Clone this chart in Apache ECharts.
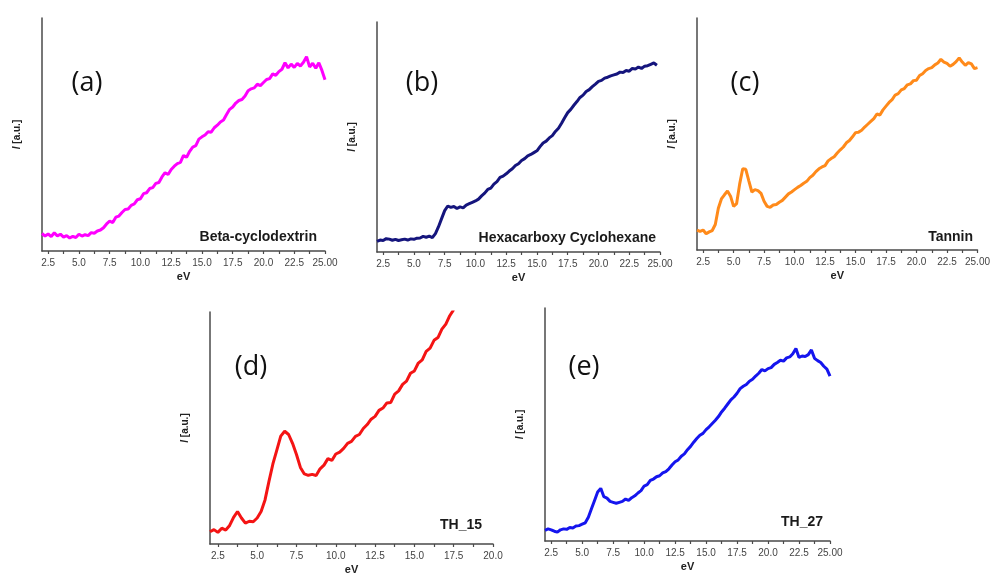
<!DOCTYPE html>
<html>
<head>
<meta charset="utf-8">
<script src="https://cdn.jsdelivr.net/npm/echarts@6/dist/echarts.min.js"></script>
<style>html,body{margin:0;padding:0;background:#fff;}#c{width:993px;height:577px;}</style>
</head>
<body>
<div id="c"></div>
<script>
// Photon energy (eV) sampling grid
const eV = [
  2, 2.25, 2.5, 2.75,  3, 3.25, 3.5, 3.75,  4, 4.25, 4.5, 4.75,  5, 5.25, 5.5, 5.75,
  6, 6.25, 6.5, 6.75,  7, 7.25, 7.5, 7.75,  8, 8.25, 8.5, 8.75,  9, 9.25, 9.5, 9.75,
  10, 10.25, 10.5, 10.75,  11, 11.25, 11.5, 11.75,  12, 12.25, 12.5, 12.75,  13, 13.25, 13.5, 13.75,
  14, 14.25, 14.5, 14.75,  15, 15.25, 15.5, 15.75,  16, 16.25, 16.5, 16.75,  17, 17.25, 17.5, 17.75,
  18, 18.25, 18.5, 18.75,  19, 19.25, 19.5, 19.75,  20, 20.25, 20.5, 20.75,  21, 21.25, 21.5, 21.75,
  22, 22.25, 22.5, 22.75,  23, 23.25, 23.5, 23.75,  24, 24.25, 24.5, 24.75,  25
];

// Intensity (a.u.)
const betaCyclodextrin = [
  7.5, 6.4, 7.3, 6.2,  7.8, 6.5, 7.2, 6.0,  6.6, 5.6, 6.3, 5.8,  7.2, 6.4, 7.0, 6.6,
  7.9, 7.6, 8.6, 9.0,  10.0, 11.6, 12.8, 12.2,  14.5, 15.0, 16.5, 17.8,  18.0, 19.6, 20.2, 22.0,
  22.4, 24.6, 25.0, 26.8,  27.2, 29.0, 29.4, 31.8,  33.6, 32.8, 35.0, 36.4,  37.5, 38.0, 41.0, 40.2,
  42.8, 44.6, 45.2, 48.0,  49.0, 49.8, 51.2, 51.0,  52.9, 54.0, 55.4, 56.2,  58.6, 60.8, 61.8, 63.5,
  64.6, 65.0, 66.5, 68.8,  69.6, 70.0, 71.6, 71.0,  72.3, 73.6, 74.0, 76.0,  75.4, 77.0, 78.0, 80.8,
  78.6, 80.2, 78.8, 80.5,  79.4, 81.0, 83.4, 79.0,  80.6, 78.4, 80.8, 77.5,  73.5
];
const hexacarboxyCyclohexane = [
  4.6, 5.2, 5.0, 5.8,  5.6, 5.1, 5.5, 5.0,  5.3, 5.6, 5.2, 5.7,  5.5, 6.0, 6.1, 6.8,
  6.4, 6.9, 6.3, 8.0,  11.0, 14.5, 18.0, 20.0,  19.4, 19.8, 18.9, 19.6,  19.2, 20.4, 21.0, 21.6,
  22.2, 23.0, 24.4, 25.6,  27.2, 27.8, 29.5, 30.6,  32.4, 33.0, 34.0, 35.2,  36.2, 37.6, 38.4, 39.8,
  40.6, 41.8, 42.4, 43.2,  44.0, 45.8, 47.4, 48.2,  49.6, 50.6, 52.4, 53.8,  56.0, 58.4, 60.6, 62.0,
  63.8, 65.4, 67.2, 68.2,  69.8, 70.6, 71.9, 73.0,  74.2, 74.6, 75.6, 76.0,  76.6, 77.0, 77.4, 78.2,
  78.0, 78.9, 78.6, 79.8,  79.6, 80.4, 79.8, 80.8,  81.0, 81.6, 82.2, 81.2
];
const tannin = [
  8.6, 8.0, 8.6, 7.0,  7.8, 8.4, 11.0, 18.0,  22.0, 23.8, 25.4, 23.2,  18.8, 20.0, 28.5, 35.0,
  34.8, 29.8, 25.0, 26.0,  25.6, 24.4, 21.0, 18.8,  18.4, 19.4, 19.6, 20.6,  21.4, 22.8, 24.2, 25.0,
  26.0, 27.0, 27.8, 28.8,  29.6, 31.2, 32.2, 33.8,  35.0, 35.8, 36.4, 38.4,  39.4, 40.2, 41.8, 43.2,
  44.4, 46.2, 47.2, 48.8,  50.6, 50.8, 51.6, 53.0,  54.2, 55.4, 56.6, 58.6,  58.2, 60.4, 62.0, 63.6,
  64.8, 66.8, 67.4, 69.0,  69.6, 71.2, 71.6, 73.0,  73.2, 75.2, 76.0, 77.4,  78.2, 78.6, 79.8, 80.6,
  82.2, 81.0, 80.4, 79.2,  80.0, 81.2, 82.8, 81.0,  79.6, 80.8, 80.2, 78.2,  78.6
];
const th15 = [
  5.3, 6.2, 5.0, 6.8,  6.0, 8.0, 11.5, 14.0,  11.2, 9.0, 9.8, 9.6,  11.2, 14.0, 19.0, 27.0,
  34.5, 40.5, 46.5, 48.6,  47.2, 43.4, 38.6, 33.0,  30.2, 29.6, 30.0, 29.5,  32.4, 34.0, 36.8, 36.0,
  38.8, 39.6, 41.2, 43.4,  44.2, 46.4, 47.2, 49.8,  51.5, 53.8, 55.0, 57.6,  58.6, 60.8, 61.0, 64.6,
  66.0, 68.8, 70.2, 73.6,  74.6, 78.0, 79.4, 83.0,  84.4, 87.8, 89.0, 92.6,  94.8, 98.4, 101
];
const th27 = [
  4.6, 5.2, 4.8, 4.2,  3.8, 4.8, 5.2, 5.0,  5.8, 5.6, 6.4, 6.6,  7.2, 7.8, 10.2, 13.8,
  17.4, 21.0, 22.6, 19.0,  18.4, 17.0, 16.6, 16.2,  16.6, 17.0, 18.0, 17.4,  18.6, 19.4, 20.6, 21.6,
  23.6, 24.2, 26.0, 26.6,  27.6, 28.0, 29.2, 29.8,  31.0, 32.6, 34.0, 34.8,  36.4, 37.4, 39.2, 40.6,
  42.4, 44.0, 45.4, 46.2,  47.8, 49.0, 50.4, 51.8,  53.4, 55.4, 57.0, 58.8,  60.6, 61.8, 63.4, 65.4,
  66.4, 67.2, 68.6, 69.4,  70.8, 72.0, 73.6, 73.0,  74.0, 74.4, 75.8, 76.6,  77.6, 77.2, 78.6, 79.0,
  80.4, 82.6, 78.8, 79.4,  79.2, 80.0, 82.0, 78.4,  77.4, 76.6, 75.0, 73.8,  70.8
];

// Tick positions and labels
const ticks25 = [2.5, 3.75, 5, 6.25, 7.5, 8.75, 10, 11.25, 12.5, 13.75, 15, 16.25, 17.5, 18.75, 20, 21.25, 22.5, 23.75, 25];
const labels25 = [2.5, 5, 7.5, 10, 12.5, 15, 17.5, 20, 22.5, 25];
const ticks20 = [2.5, 3.75, 5, 6.25, 7.5, 8.75, 10, 11.25, 12.5, 13.75, 15, 16.25, 17.5, 18.75, 20];
const labels20 = [2.5, 5, 7.5, 10, 12.5, 15, 17.5, 20];

const panelTags = ['(a)', '(b)', '(c)', '(d)', '(e)'];
const sampleNames = ['Beta-cyclodextrin', 'Hexacarboxy Cyclohexane', 'Tannin', 'TH_15', 'TH_27'];
const xMax = [25, 25, 25, 20, 25];

const panels = [
  {grid: {left: 42, top: 18, width: 283, height: 233}, color: '#ff00ff', data: betaCyclodextrin, tag: [87, 83], name: [317, 237]},
  {grid: {left: 377, top: 22, width: 283, height: 230}, color: '#15157d', data: hexacarboxyCyclohexane, tag: [422, 83], name: [656, 238]},
  {grid: {left: 697, top: 18, width: 283, height: 232}, color: '#ff8a1a', data: tannin, tag: [745, 83], name: [973, 237]},
  {grid: {left: 210, top: 312, width: 283, height: 232}, color: '#f41414', data: th15, tag: [251, 367], name: [482, 525]},
  {grid: {left: 545, top: 308, width: 285, height: 233}, color: '#1515ee', data: th27, tag: [584, 367], name: [823, 522]}
];

const axisCol = '#4a4a4a';
const fmt = v => (v === 25 ? '25.00' : v.toFixed(1));

const option = {
  backgroundColor: '#fff',
  animation: false,
  grid: panels.map(p => Object.assign({containLabel: false}, p.grid)),
  xAxis: panels.map((p, i) => ({
    type: 'value', gridIndex: i, min: 2, max: xMax[i],
    name: 'eV', nameLocation: 'middle', nameGap: 20,
    nameTextStyle: {fontFamily: 'Liberation Sans', fontWeight: 'bold', fontSize: 11, color: '#222'},
    axisLine: {show: true, lineStyle: {color: axisCol, width: 1.5}},
    axisTick: {show: true, inside: false, length: 3, lineStyle: {color: axisCol, width: 1.2},
      customValues: xMax[i] === 25 ? ticks25 : ticks20},
    axisLabel: {show: true, margin: 7, fontFamily: 'Liberation Sans', fontSize: 10, color: '#444',
      customValues: xMax[i] === 25 ? labels25 : labels20, formatter: fmt,
      showMinLabel: true, showMaxLabel: true, hideOverlap: false},
    splitLine: {show: false}, minorTick: {show: false}
  })),
  yAxis: panels.map((p, i) => ({
    type: 'value', gridIndex: i, min: 0, max: 100,
    name: '{i|I} [a.u.]', nameLocation: 'middle', nameGap: 20, nameRotate: 90,
    nameTextStyle: {fontFamily: 'Liberation Sans', fontWeight: 'bold', fontSize: 10, color: '#222',
      rich: {i: {fontFamily: 'Liberation Sans', fontStyle: 'italic', fontWeight: 'bold', fontSize: 10, color: '#222'}}},
    axisLine: {show: true, lineStyle: {color: axisCol, width: 1.5}},
    axisTick: {show: false}, axisLabel: {show: false}, splitLine: {show: false}
  })),
  series: panels.map((p, i) => ({
    type: 'line', xAxisIndex: i, yAxisIndex: i, showSymbol: false, symbol: 'none',
    clip: true, smooth: false,
    lineStyle: {color: p.color, width: 3},
    data: p.data.map((v, k) => [eV[k], v])
  })),
  graphic: panels.flatMap((p, i) => [
    {type: 'text', style: {x: p.tag[0], y: p.tag[1], text: panelTags[i], fill: '#111',
      font: '27px "Open Sans"', textAlign: 'center', textVerticalAlign: 'middle'}},
    {type: 'text', style: {x: p.name[0], y: p.name[1], text: sampleNames[i], fill: '#1a1a1a',
      font: 'bold 14px "Liberation Sans"', textAlign: 'right', textVerticalAlign: 'middle'}}
  ])
};

const chart = echarts.init(document.getElementById('c'), null, {renderer: 'canvas'});
chart.setOption(option);
</script>
</body>
</html>
